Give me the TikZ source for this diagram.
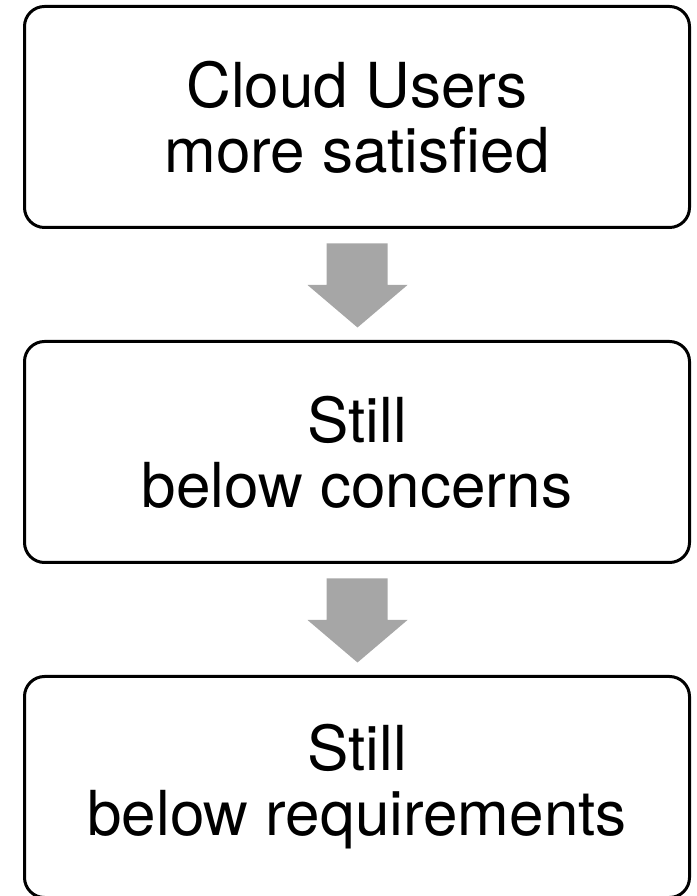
\documentclass[tikz,border=0pt]{standalone}
\usepackage{fontspec}
\setmainfont{TeX Gyre Heros}
\usepackage{tikz}
\usetikzlibrary{calc,positioning}
\definecolor{arrowgray}{RGB}{166,166,166}
\tikzset{%
	stage/.style    = {draw, rectangle, rounded corners=20pt, line width=3pt, minimum width=665pt, minimum height=221pt, align=center, font=\fontsize{62}{65}\selectfont},
	flowarrow/.style = {fill=arrowgray, draw=none}, % gray block arrow
}

\begin{document}
\begin{tikzpicture}[x=1pt,y=1pt,node distance=111pt]
	\useasboundingbox (0,0) rectangle (696,896);
	\node [stage] (users) at (357,779) {Cloud Users\\more satisfied};
	\node [stage] (concerns) [below=of users] {Still\\below concerns};
	\node [stage] (reqs) [below=of concerns] {Still\\below requirements};
	
	\foreach \a/\b in {users/concerns, concerns/reqs}
	\fill[flowarrow] ($(\a.south)+(-30.5,-14.5)$) -- ($(\a.south)+(30.5,-14.5)$)
		-- ($(\a.south)+(30.5,-56)$) -- ($(\a.south)+(50.5,-56)$)
		-- ($(\a.south)+(0.5,-98.5)$) -- ($(\a.south)+(-49.5,-56)$)
		-- ($(\a.south)+(-30.5,-56)$) -- cycle;
\end{tikzpicture}
\end{document}
